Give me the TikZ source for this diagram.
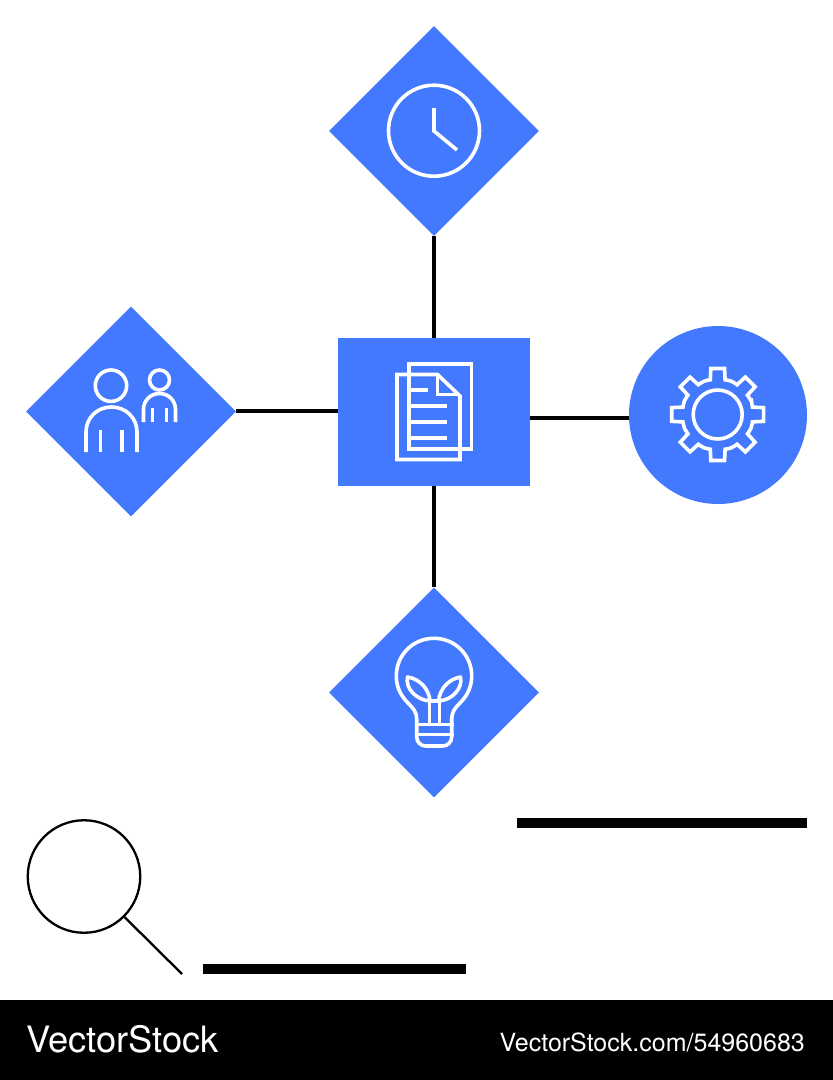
\documentclass[tikz,border=0pt]{standalone}
\usepackage{fontspec}
\setmainfont{TeX Gyre Heros}
\usetikzlibrary{shapes.geometric}
\definecolor{brandblue}{HTML}{4379FF}
\tikzset{
  x=1pt,y=-1pt,
  diamondbox/.style={diamond,fill=brandblue,draw=none,inner sep=0pt,minimum width=210pt,minimum height=210pt},
  squarebox/.style={rectangle,fill=brandblue,draw=none,inner sep=0pt,minimum width=192pt,minimum height=148pt},
  roundbox/.style={circle,fill=brandblue,draw=none,inner sep=0pt,minimum size=178pt},
  link/.style={draw=black,line width=3.6pt},
  icon/.style={draw=white,line width=3.6pt,line join=miter},
  bar/.style={fill=black,draw=none},
  footertext/.style={text=white,inner sep=0pt,anchor=base west}
}
\begin{document}
\begin{tikzpicture}
\useasboundingbox (0,0) rectangle (833,1080);
\fill[white] (0,0) rectangle (833,1080);

% connectors
\node[diamondbox] (clockd) at (434,131) {};
\node[diamondbox] (peopled) at (131,411.5) {};
\node[diamondbox] (bulbd) at (434,692.5) {};
\node[squarebox] (hub) at (434,412) {};
\node[roundbox] (gearc) at (718,415) {};
\coordinate (rightlevel) at (0,418);
\coordinate (leftlevel) at (0,411);
\draw[link] (clockd.south) -- (hub.north);
\draw[link] (peopled.east |- leftlevel) -- (hub.west |- leftlevel);
\draw[link] (hub.east |- rightlevel) -- (gearc.west |- rightlevel);
\draw[link] (hub.south) -- (bulbd.north);

% clock
\draw[icon] (434,130.7) circle[radius=45.5pt];
\draw[icon] (434,108) -- (434,131) -- (457,150);

% people
\draw[icon] (111,385.7) circle[radius=15.7pt];
\draw[icon] (86,452) -- (86,432) .. controls (86,418) and (97,407) .. (111.5,407) .. controls (126,407) and (137,418) .. (137,432) -- (137,452);
\draw[icon] (100.3,430) -- (100.3,452);
\draw[icon] (122,430) -- (122,452);
\draw[icon] (159.5,380) circle[radius=10pt];
\draw[icon] (143.5,422) -- (143.5,409.5) .. controls (143.5,400.5) and (150.5,393.5) .. (159.5,393.5) .. controls (168.5,393.5) and (175.5,400.5) .. (175.5,409.5) -- (175.5,422);
\draw[icon] (152.3,408) -- (152.3,422);
\draw[icon] (166.3,408) -- (166.3,422);

% document
\draw[icon] (409,364) rectangle (471.5,449);
\draw[icon,fill=none] (397,374.5) -- (437.5,374.5) -- (460,396) -- (460,459.5) -- (397,459.5) -- cycle;
\draw[icon] (437.5,374.5) -- (437.5,394.5) -- (460,394.5);
\draw[icon] (409,390) -- (428.3,390);
\draw[icon] (409,406) -- (446.7,406);
\draw[icon] (409,422) -- (446.7,422);
\draw[icon] (409,438) -- (446.7,438);

% gear
\begin{scope}[shift={(717.7,414.5)}]
\draw[icon] (0,0) circle[radius=24.5pt];
\draw[icon] (-22.5:36.5)
  \foreach \a in {0,45,...,315}{
    -- ({\a-16}:35.7) -- ({\a-12}:35.5) -- ({\a-8.5}:46.5) -- ({\a+8.5}:46.5) -- ({\a+12}:35.5) -- ({\a+16}:35.7) -- ({\a+22.5}:36)
  } -- cycle;
\end{scope}

% bulb
\draw[icon] (416.7,724) -- (416.7,719) .. controls (416.7,712) and (413,708) .. (408,703)
  .. controls (400,695) and (396.3,686) .. (396.3,676)
  .. controls (396.3,655) and (413,638.3) .. (434,638.3)
  .. controls (455,638.3) and (471.7,655) .. (471.7,676)
  .. controls (471.7,686) and (468,695) .. (460,703)
  .. controls (455,708) and (451.7,712) .. (451.7,719) -- (451.7,724);
\draw[icon,rounded corners=9pt] (416.7,723) -- (416.7,746) -- (451.7,746) -- (451.7,723);
\draw[icon] (415,724.5) -- (453.5,724.5);
\draw[icon] (415,734.5) -- (453.5,734.5);
\draw[icon] (429.3,724) -- (429.3,701) -- (439.3,701) -- (439.3,724);
\draw[icon,line join=round] (430,701) .. controls (429,689) and (420,679) .. (407.5,677) .. controls (405,688) and (416,700) .. (430,701);
\draw[icon,line join=round] (438.6,701) .. controls (439.6,689) and (448.6,679) .. (460.5,677) .. controls (463,688) and (452.6,700) .. (438.6,701);

% bars
\node[bar,rectangle,minimum width=290pt,minimum height=10pt,inner sep=0pt] (barone) at (662,823) {};
\node[bar,rectangle,minimum width=263.5pt,minimum height=10pt,inner sep=0pt] (bartwo) at (334.7,969) {};

% magnifier
\node[circle,draw=black,line width=2.3pt,inner sep=0pt,minimum size=112.5pt] (lens) at (84,876.5) {};
\coordinate (handleend) at (182,974);
\draw[black,line width=2.3pt] (lens.south east) -- (handleend);

% footer
\fill[black] (0,1000) rectangle (833,1080);
\node[footertext,font=\fontsize{36.3}{36.3}\selectfont] (brand) at (26,1052) {VectorStock};
\node[footertext,anchor=base east,font=\fontsize{25}{25}\selectfont] (stockid) at (805,1051) {VectorStock.com/54960683};
\end{tikzpicture}
\end{document}
